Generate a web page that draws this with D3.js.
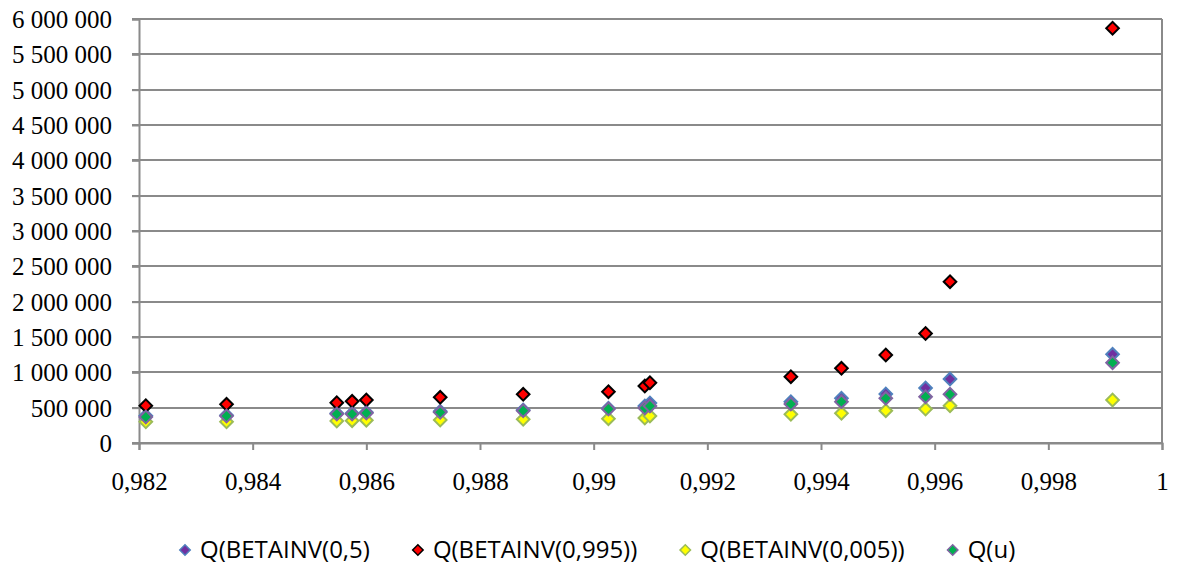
<!DOCTYPE html>
<html>
<head>
<meta charset="utf-8">
<script src="https://d3js.org/d3.v7.min.js"></script>
<style>
  body { margin: 0; background: #fff; }
  .axis text { font-family: "Liberation Serif", "Times New Roman", serif; font-size: 25px; fill: #000; }
  .legend text { font-family: "Open Sans", sans-serif; font-size: 24px; fill: #000; }
</style>
</head>
<body>
<svg id="chart" width="1178" height="565"></svg>
<script>
// values
var uValues = [0.98212, 0.98354, 0.98548, 0.98575, 0.98600, 0.98730, 0.98876, 0.99026,
               0.99090, 0.99099, 0.99347, 0.99436, 0.99514, 0.99584, 0.99627, 0.99913];
var qMedian = [386000, 392000, 420000, 420000, 434000, 448000, 467000, 491000,
               524000, 566000, 585000, 632000, 693000, 778000, 905000, 1255000];
var qUpper  = [528000, 547000, 570000, 590000, 608000, 646000, 689000, 726000,
               807000, 853000, 938000, 1057000, 1245000, 1550000, 2283000, 5869000];
var qLower  = [301000, 301000, 311000, 316000, 321000, 325000, 335000, 344000,
               354000, 382000, 406000, 420000, 457000, 480000, 526000, 608000];
var qU      = [368000, 382000, 410000, 410000, 425000, 434000, 457000, 481000,
               495000, 524000, 552000, 585000, 632000, 655000, 690000, 1137000];

var seriesNames = ["Q(BETAINV(0,5)", "Q(BETAINV(0,995))", "Q(BETAINV(0,005))", "Q(u)"];
var xTicks = [0.982, 0.984, 0.986, 0.988, 0.99, 0.992, 0.994, 0.996, 0.998, 1];
var yTicks = d3.range(0, 6000001, 500000);

var series = [
  {name: seriesNames[0], values: qMedian, fill: "#7030a0", stroke: "#4f81bd"},
  {name: seriesNames[1], values: qUpper,  fill: "#ff0000", stroke: "#000000"},
  {name: seriesNames[2], values: qLower,  fill: "#ffff00", stroke: "#9bbb59"},
  {name: seriesNames[3], values: qU,      fill: "#00b050", stroke: "#8064a2"}
];

var svg = d3.select("#chart");
var plotLeft = 139, plotRight = 1162, plotTop = 19, plotBottom = 443;

var x = d3.scaleLinear().domain([0.982, 1]).range([plotLeft, plotRight]);
var y = d3.scaleLinear().domain([0, 6000000]).range([plotBottom, plotTop]);

var gridColor = "#8a8a8a";

// horizontal gridlines
svg.append("g").selectAll("line").data(yTicks).enter().append("line")
  .attr("x1", plotLeft - 7).attr("x2", plotRight)
  .attr("y1", function(d) { return Math.round(y(d)); })
  .attr("y2", function(d) { return Math.round(y(d)); })
  .attr("stroke", gridColor).attr("stroke-width", 2);

// right border
svg.append("line").attr("x1", plotRight).attr("x2", plotRight).attr("y1", plotTop).attr("y2", plotBottom)
  .attr("stroke", gridColor).attr("stroke-width", 2);

// y axis
var yAxis = d3.axisLeft(y).tickValues(yTicks).tickSize(7).tickPadding(20)
  .tickFormat(function(d) { return d3.format(",")(d).replace(/,/g, "\u00a0"); });
var gy = svg.append("g").attr("class", "axis").attr("transform", "translate(" + plotLeft + ",0)").call(yAxis);
gy.select(".domain").attr("stroke", gridColor).attr("stroke-width", 2);
gy.selectAll(".tick line").attr("stroke", gridColor).attr("stroke-width", 2);
gy.selectAll("text").attr("dy", "0.34em");

// x axis
var xAxis = d3.axisBottom(x).tickValues(xTicks).tickSize(7).tickPadding(22)
  .tickFormat(function(d) { return String(d).replace(".", ","); });
var gx = svg.append("g").attr("class", "axis").attr("transform", "translate(0," + plotBottom + ")").call(xAxis);
gx.select(".domain").attr("stroke", gridColor).attr("stroke-width", 2);
gx.selectAll(".tick line").attr("stroke", gridColor).attr("stroke-width", 2);

// markers
var diamond = d3.symbol().type(d3.symbolSquare).size(80);
series.forEach(function(s) {
  svg.append("g").selectAll("path").data(s.values).enter().append("path")
    .attr("d", diamond)
    .attr("transform", function(d, i) { return "translate(" + x(uValues[i]) + "," + y(d) + ") rotate(45)"; })
    .attr("fill", s.fill).attr("stroke", s.stroke).attr("stroke-width", 2);
});

// legend
var legend = svg.append("g").attr("class", "legend");
var lx = 185, ly = 550;
var smallDiamond = d3.symbol().type(d3.symbolSquare).size(55);
series.forEach(function(s) {
  legend.append("path").attr("d", smallDiamond)
    .attr("transform", "translate(" + lx + "," + ly + ") rotate(45)")
    .attr("fill", s.fill).attr("stroke", s.stroke).attr("stroke-width", 1.5);
  var t = legend.append("text").attr("x", lx + 15).attr("y", ly).attr("dy", "0.35em").text(s.name);
  lx = lx + 15 + t.node().getComputedTextLength() + 48;
});
</script>
</body>
</html>
